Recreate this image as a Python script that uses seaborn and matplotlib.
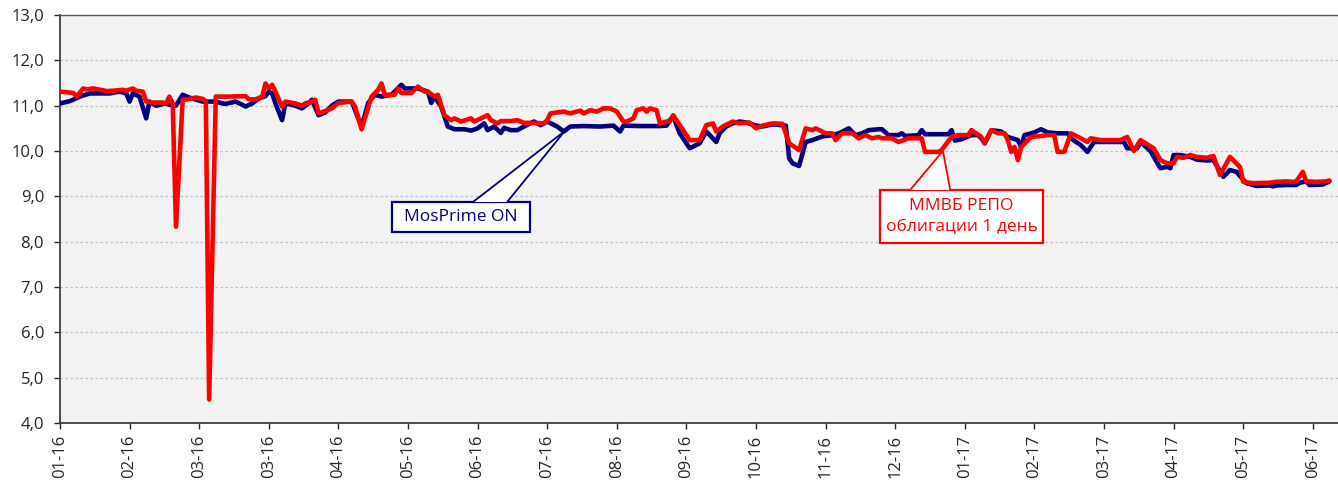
import matplotlib
matplotlib.use("Agg")
import matplotlib.pyplot as plt
import seaborn as sns
from matplotlib.ticker import FuncFormatter
from matplotlib.patches import Rectangle, Polygon

# trading-day number (0 = first trading day of 2016) and overnight rates, %
mosprime_day = [0, 3, 6, 9, 15, 18, 20, 21, 22, 24, 26, 27, 29, 32, 33, 35, 37, 39, 43, 47,
                49, 50, 53, 55, 56, 58, 60, 62, 63, 64, 65, 67, 68, 71, 73, 75, 76, 78, 80, 82,
                84, 87, 88, 91, 93, 95, 97, 100, 103, 104, 108, 111, 112, 113, 115, 117, 119, 122, 124, 126,
                128, 129, 131, 133, 134, 136, 138, 140, 143, 145, 147, 150, 152, 154, 158, 163, 167, 169, 170, 175,
                181, 183, 184, 185, 187, 190, 193, 195, 198, 199, 201, 203, 205, 207, 210, 212, 215, 219, 220, 221,
                223, 225, 227, 230, 233, 235, 238, 240, 242, 244, 247, 248, 250, 253, 254, 255, 259, 260, 261, 268,
                269, 270, 272, 275, 277, 278, 279, 281, 284, 286, 289, 290, 291, 294, 296, 298, 301, 304, 305, 308,
                310, 312, 315, 318, 321, 322, 325, 326, 329, 332, 334, 335, 336, 338, 341, 343, 346, 348, 351, 353,
                355, 356, 358, 361, 365, 366, 367, 370, 373, 374, 376, 377, 381, 383]
mosprime_rate = [11.05, 11.10, 11.20, 11.27, 11.27, 11.31, 11.27, 11.09, 11.27, 11.20, 10.72, 11.09, 11.00, 11.05, 11.02, 11.00, 11.24, 11.18, 11.09, 11.09,
                 11.05, 11.04, 11.09, 11.02, 10.98, 11.05, 11.16, 11.21, 11.31, 11.27, 11.05, 10.68, 11.05, 11.00, 10.94, 11.05, 11.13, 10.79, 10.85, 11.00,
                 11.09, 11.09, 11.09, 10.54, 11.06, 11.24, 11.20, 11.24, 11.46, 11.38, 11.38, 11.31, 11.06, 11.20, 10.98, 10.54, 10.48, 10.48, 10.45, 10.50,
                 10.61, 10.46, 10.54, 10.40, 10.51, 10.46, 10.46, 10.54, 10.65, 10.57, 10.65, 10.54, 10.43, 10.54, 10.55, 10.54, 10.56, 10.43, 10.56, 10.55,
                 10.55, 10.56, 10.68, 10.76, 10.39, 10.06, 10.17, 10.43, 10.20, 10.39, 10.54, 10.61, 10.65, 10.63, 10.56, 10.54, 10.59, 10.56, 9.84, 9.73,
                 9.67, 10.20, 10.24, 10.32, 10.35, 10.39, 10.50, 10.35, 10.39, 10.46, 10.48, 10.48, 10.35, 10.35, 10.39, 10.33, 10.35, 10.46, 10.37, 10.37,
                 10.46, 10.23, 10.26, 10.35, 10.35, 10.28, 10.17, 10.46, 10.43, 10.31, 10.24, 10.09, 10.35, 10.41, 10.48, 10.41, 10.39, 10.39, 10.28, 10.13,
                 9.98, 10.20, 10.20, 10.20, 10.20, 10.06, 10.06, 10.20, 10.00, 9.62, 9.65, 9.62, 9.91, 9.91, 9.87, 9.81, 9.79, 9.80, 9.43, 9.58,
                 9.54, 9.45, 9.29, 9.23, 9.24, 9.22, 9.24, 9.25, 9.25, 9.30, 9.33, 9.25, 9.26, 9.33]

repo_day = [0, 4, 5, 7, 8, 10, 13, 14, 16, 19, 20, 22, 23, 25, 26, 28, 31, 32, 33, 34,
            35, 37, 39, 41, 43, 44, 45, 47, 51, 56, 57, 59, 61, 62, 63, 64, 65, 67, 68, 71,
            73, 74, 76, 77, 78, 80, 82, 84, 88, 89, 91, 94, 96, 97, 98, 101, 102, 103, 106, 108,
            110, 111, 113, 114, 116, 118, 119, 121, 124, 125, 127, 129, 130, 132, 133, 136, 138, 140, 143, 146,
            147, 148, 152, 154, 157, 158, 160, 162, 164, 166, 168, 170, 171, 173, 174, 176, 177, 178, 180, 181,
            183, 184, 185, 188, 190, 193, 195, 197, 198, 200, 203, 205, 208, 210, 212, 215, 218, 220, 223, 225,
            227, 228, 231, 233, 234, 236, 239, 241, 243, 245, 247, 248, 251, 253, 256, 260, 261, 265, 266, 269,
            271, 274, 275, 278, 279, 281, 283, 285, 286, 287, 288, 289, 290, 293, 296, 298, 300, 301, 303, 305,
            308, 310, 311, 314, 317, 320, 322, 324, 326, 330, 332, 334, 336, 337, 339, 341, 343, 346, 348, 350,
            353, 356, 357, 360, 365, 367, 370, 372, 373, 375, 376, 379, 382, 383]
repo_rate = [11.31, 11.28, 11.20, 11.38, 11.36, 11.38, 11.34, 11.32, 11.33, 11.35, 11.33, 11.38, 11.33, 11.31, 11.09, 11.07, 11.07, 11.05, 11.20, 11.05,
             8.33, 11.12, 11.15, 11.18, 11.15, 11.10, 4.52, 11.20, 11.20, 11.21, 11.14, 11.14, 11.20, 11.49, 11.38, 11.46, 11.31, 10.98, 11.09, 11.05,
             11.00, 11.05, 11.09, 11.13, 10.83, 10.88, 10.94, 11.06, 11.09, 10.98, 10.48, 11.20, 11.35, 11.49, 11.24, 11.24, 11.38, 11.28, 11.28, 11.42,
             11.31, 11.31, 11.20, 11.24, 10.79, 10.68, 10.72, 10.65, 10.72, 10.65, 10.72, 10.79, 10.68, 10.61, 10.66, 10.66, 10.68, 10.62, 10.62, 10.61,
             10.68, 10.83, 10.87, 10.83, 10.89, 10.83, 10.90, 10.87, 10.94, 10.94, 10.87, 10.65, 10.65, 10.72, 10.90, 10.94, 10.87, 10.94, 10.90, 10.61,
             10.65, 10.65, 10.79, 10.46, 10.24, 10.24, 10.57, 10.61, 10.43, 10.54, 10.65, 10.61, 10.63, 10.50, 10.56, 10.61, 10.60, 10.17, 10.02, 10.50,
             10.46, 10.50, 10.39, 10.39, 10.24, 10.39, 10.39, 10.28, 10.35, 10.28, 10.31, 10.28, 10.28, 10.20, 10.28, 10.28, 9.98, 9.98, 10.02, 10.31,
             10.35, 10.35, 10.46, 10.31, 10.17, 10.46, 10.39, 10.39, 10.24, 9.98, 10.09, 9.80, 10.09, 10.31, 10.33, 10.35, 10.35, 9.98, 9.98, 10.39,
             10.28, 10.20, 10.28, 10.24, 10.24, 10.24, 10.31, 10.00, 10.24, 10.06, 9.80, 9.73, 9.73, 9.87, 9.85, 9.91, 9.87, 9.85, 9.89, 9.47,
             9.87, 9.65, 9.32, 9.29, 9.30, 9.32, 9.33, 9.32, 9.33, 9.54, 9.33, 9.32, 9.33, 9.35]

# axis labels every 21 trading days (as in the source workbook)
tick_day = [0, 21, 42, 63, 84, 105, 126, 147, 168, 189, 210, 231, 252, 273, 294, 315, 336, 357, 378]
tick_labels = ["01-16", "02-16", "03-16", "03-16", "04-16", "05-16", "06-16", "07-16", "08-16", "09-16",
               "10-16", "11-16", "12-16", "01-17", "02-17", "03-17", "04-17", "05-17", "06-17"]

sns.set_style("ticks")
plt.rcParams["font.family"] = ["Open Sans", "DejaVu Sans"]

fig = plt.figure(figsize=(13.38, 4.86), dpi=100)
ax = fig.add_axes([60 / 1338, 1 - 423 / 486, 1 - 60 / 1338, (423 - 15) / 486])
ax.set_facecolor("#F2F2F2")

sns.lineplot(x=mosprime_day, y=mosprime_rate, color="#000080", lw=3.3,
             estimator=None, sort=False, ax=ax, solid_joinstyle="round", zorder=3)
sns.lineplot(x=repo_day, y=repo_rate, color="#FF0000", lw=3.3,
             estimator=None, sort=False, ax=ax, solid_joinstyle="round", zorder=4)

ax.set_xlim(0, 385.6)
ax.set_ylim(4, 13)
ax.set_yticks(range(4, 14))
ax.yaxis.set_major_formatter(FuncFormatter(lambda v, p: f"{v:.1f}".replace(".", ",")))
ax.set_xticks(tick_day)
ax.set_xticklabels(tick_labels, rotation=90)
ax.tick_params(axis="both", labelsize=12, colors="#262626", length=4.5, width=1, direction="out")
ax.tick_params(axis="y", pad=7)
ax.tick_params(axis="x", pad=4)
ax.set_xlabel("")
ax.set_ylabel("")

ax.grid(axis="y", color="#BFBFBF", linestyle=(0, (2, 2)), lw=0.9)
ax.set_axisbelow(True)

for side in ["left", "bottom"]:
    ax.spines[side].set_color("#404040")
    ax.spines[side].set_linewidth(1.3)
ax.spines["top"].set_visible(True)
ax.spines["top"].set_color("#595959")
ax.spines["top"].set_linewidth(1.0)
ax.spines["right"].set_visible(False)


def callout(box, base, tip, text, color, **kw):
    # box = (x0, y0, x1, y1) in data units, base = (xa, xb) on box top, tip = (x, y)
    x0, y0, x1, y1 = box
    ax.add_patch(Rectangle((x0, y0), x1 - x0, y1 - y0, fc="white", ec=color, lw=1.6, zorder=6))
    ax.add_patch(Polygon([(base[0], y1), tip, (base[1], y1)], closed=False,
                         fc="white", ec=color, lw=1.3, zorder=7, joinstyle="miter"))
    ax.text((x0 + x1) / 2, (y0 + y1) / 2, text, ha="center", va="center",
            color=color, fontsize=12.5, zorder=8, **kw)


callout((100.2, 8.21, 141.9, 8.875), (124.6, 134.9), (152.3, 10.44), "MosPrime ON", "#000080")
callout((247.4, 7.97, 296.6, 9.14), (256.5, 268.6), (266.4, 10.0),
        "ММВБ РЕПО\nоблигации 1 день", "#FF0000", linespacing=1.45)

fig.savefig("out.png", dpi=100)
